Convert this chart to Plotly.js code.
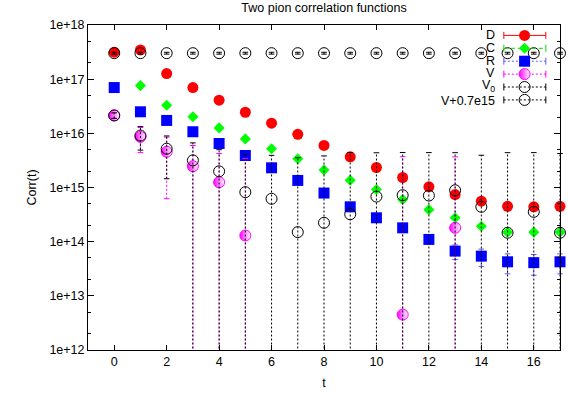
<!DOCTYPE html>
<html><head><meta charset="utf-8">
<script src="https://cdn.plot.ly/plotly-3.0.1.min.js"></script>
<style>html,body{margin:0;padding:0;background:#fff}#chart{width:568px;height:394px}</style>
</head><body><div id="chart"></div>
<script>
// ---- data ----
const t = [0,1,2,3,4,5,6,7,8,9,10,11,12,13,14,15,16,17];
const D = [3.15e17,3.46e17,1.27e17,7.0e16,4.1e16,2.45e16,1.54e16,9.6e15,5.97e15,3.69e15,2.34e15,1.53e15,1.03e15,7.4e14,5.6e14,4.5e14,4.4e14,4.5e14];
const C = [null,7.6e16,3.3e16,2.02e16,1.26e16,7.9e15,5.2e15,3.39e15,2.1e15,1.36e15,9.2e14,6.0e14,3.9e14,2.76e14,1.93e14,1.5e14,1.5e14,1.5e14];
const R = [7.0e16,2.5e16,1.73e16,1.07e16,6.5e15,3.9e15,2.31e15,1.35e15,7.9e14,4.4e14,2.76e14,1.8e14,1.1e14,6.7e13,5.4e13,4.25e13,4.1e13,4.25e13];
const R_err = [1e15,5e14,4e14,3e14,2e14,1.5e14,1e14,7e13,5e13,3e13,2e13,1.5e13,1.0e13,2.0e13,1.9e13,1.7e13,1.7e13,1.7e13];
const V = [2.14e16,8.6e15,4.57e15,2.47e15,1.25e15,1.3e14,null,null,null,null,null,4.5e12,null,1.8e14,null,null,null,null];
const V_err = [2.5e15,4.2e15,3.95e15,3.5e15,3.0e15,3.3e15,null,null,null,null,null,3.7e15,null,3.5e15,null,null,null,null];
const V0 = [3.02e17,3.02e17,3.02e17,3.02e17,3.02e17,3.02e17,3.02e17,3.02e17,3.02e17,3.02e17,3.02e17,3.02e17,3.02e17,3.02e17,3.02e17,3.02e17,3.02e17,3.02e17];
const V0_err = [1.2e16,1.2e16,1.2e16,1.2e16,1.2e16,1.2e16,1.2e16,1.2e16,1.2e16,1.2e16,1.2e16,1.2e16,1.2e16,1.2e16,1.2e16,1.2e16,1.2e16,1.2e16];
const Vp = [2.14e16,9.1e15,5.2e15,3.17e15,1.99e15,8.2e14,6.2e14,1.5e14,2.23e14,3.2e14,6.8e14,7.2e14,7.1e14,8.9e14,4.4e14,1.46e14,3.55e14,1.46e14];
const Vp_err = [2.5e15,4.2e15,3.75e15,3.5e15,3.0e15,3.3e15,3.3e15,3.4e15,3.6e15,4.1e15,3.7e15,3.7e15,3.7e15,3.5e15,3.5e15,4.25e15,4.05e15,4.1e15];
const xTicks = [0,2,4,6,8,10,12,14,16];
const yTickVals = [1e12,1e13,1e14,1e15,1e16,1e17,1e18];
const yTickText = ['1e+12','1e+13','1e+14','1e+15','1e+16','1e+17','1e+18'];
const legendNames = ['D','C','R','V','V<sub>0</sub>','V+0.7e15'];

// ---- styles ----
const FONT = 'Liberation Sans, Arial, Helvetica, sans-serif';
const styles = [
  {name:legendNames[0], y:D,  err:null,   errColor:'#ff0000', dash:'solid',   shift:0, marker:{symbol:'circle', size:11, color:'#ff0000', line:{width:0}}},
  {name:legendNames[1], y:C,  err:null,   errColor:'#00e000', dash:'4px,3px', shift:0, marker:{symbol:'diamond', size:8.5, color:'#00ff00', line:{width:0}}},
  {name:legendNames[2], y:R,  err:R_err,  errColor:'#5a5aff', dash:'2px,2px', shift:0, marker:{symbol:'square', size:11, color:'#0000ff', line:{width:0}}},
  {name:legendNames[3], y:V,  err:V_err,  errColor:'#ff00ff', dash:'2px,2px', shift:1, marker:{symbol:'circle', size:11, color:'#ff00ff', line:{width:1, color:'#ff00ff'}, gradient:{type:'horizontal', color:'#ffffff'}}},
  {name:legendNames[4], y:V0, err:V0_err, errColor:'#000000', dash:'2px,2px', shift:1, marker:{symbol:'circle-open', size:11, color:'#000000', line:{width:1, color:'#000000'}}},
  {name:legendNames[5], y:Vp, err:Vp_err, errColor:'#000000', dash:'2px,2px', shift:-1, marker:{symbol:'circle-open', size:11, color:'#000000', line:{width:1, color:'#000000'}}}
];

// error bars as dotted segments (lower end below the axis when value-error <= 0)
function errTraces(s) {
  const lx=[], ly=[], cx=[], cy=[];
  for (let i=0;i<t.length;i++) {
    const v=s.y[i], e=s.err[i];
    if (v==null || e==null) continue;
    const hi=v+e, lo=v-e;
    lx.push(t[i],t[i],null); ly.push(lo>0?lo:1e9, hi, null);
    cx.push(t[i]); cy.push(hi);
    if (lo>0) { cx.push(t[i]); cy.push(lo); }
  }
  return [
    {x:lx, y:ly, mode:'lines', type:'scatter', showlegend:false, hoverinfo:'skip',
     line:{color:s.errColor, width:1, dash:s.dash}, connectgaps:false},
    {x:cx, y:cy, mode:'markers', type:'scatter', showlegend:false, hoverinfo:'skip', cliponaxis:false,
     marker:{symbol:'line-ew', size:4, color:s.errColor, line:{width:1, color:s.errColor}}}
  ];
}

const traces=[];
styles.forEach(s=>{
  if (s.err) traces.push(...errTraces(s));
  traces.push({x:t, y:s.y, mode:'markers', type:'scatter', name:s.name, showlegend:false, cliponaxis:false, marker:s.marker});
});

// custom gnuplot-style key (text left, sample right) on an overlay axis
const keyTop=0.968, keyStep=0.0397, kx0=0.881, kx1=0.970, kxc=0.925, ktext=0.866;
const annotations=[];
styles.forEach((s,i)=>{
  const yy=keyTop-i*keyStep;
  traces.push({x:[kx0,kx1], y:[yy,yy], xaxis:'x2', yaxis:'y2', mode:'lines', type:'scatter', showlegend:false, hoverinfo:'skip',
    line:{color:s.errColor, width:1, dash:s.dash}});
  traces.push({x:[kx0,kx1], y:[yy,yy], xaxis:'x2', yaxis:'y2', mode:'markers', type:'scatter', showlegend:false, hoverinfo:'skip', cliponaxis:false,
    marker:{symbol:'line-ns', size:5, color:s.errColor, line:{width:1, color:s.errColor}}});
  traces.push({x:[kxc], y:[yy], xaxis:'x2', yaxis:'y2', mode:'markers', type:'scatter', showlegend:false, hoverinfo:'skip', cliponaxis:false,
    marker:s.marker});
  annotations.push({xref:'paper', yref:'paper', x:ktext, y:yy, yshift:s.shift, xanchor:'right', yanchor:'middle', text:s.name, showarrow:false,
    font:{family:FONT, size:12.5, color:'#000'}});
});

// minor ticks at 2 and 5 of every decade
const minorVals=[];
for (let p=12;p<18;p++){ minorVals.push(2*Math.pow(10,p), 5*Math.pow(10,p)); }

const layout = {
  width:568, height:394,
  margin:{l:88, r:8, t:25, b:43.5, pad:0},
  paper_bgcolor:'#ffffff', plot_bgcolor:'#ffffff',
  font:{family:FONT, size:12.5, color:'#000'},
  showlegend:false,
  title:{text:'Two pion correlation functions', font:{family:FONT, size:12.5, color:'#000'},
         x:0.5, xref:'paper', xanchor:'center', y:1-7.5/394, yref:'container', yanchor:'middle'},
  xaxis:{range:[-1,17], tickmode:'array', tickvals:xTicks, ticks:'inside', ticklen:5, tickwidth:1, tickcolor:'#000',
         showline:true, linecolor:'#000', linewidth:1, mirror:'ticks', showgrid:false, zeroline:false,
         title:{text:'t', standoff:10, font:{family:FONT, size:12.5}}, tickfont:{family:FONT, size:12.5}},
  yaxis:{type:'log', range:[12,18], tickmode:'array', tickvals:yTickVals, ticktext:yTickText,
         ticks:'inside', ticklen:6, tickwidth:1, tickcolor:'#000',
         minor:{tickmode:'array', tickvals:minorVals, ticks:'inside', ticklen:3, tickwidth:1, tickcolor:'#000', showgrid:false},
         showline:true, linecolor:'#000', linewidth:1, mirror:'ticks', showgrid:false, zeroline:false,
         title:{text:'Corr(t)', standoff:10, font:{family:FONT, size:12.5}}, tickfont:{family:FONT, size:12.5}},
  xaxis2:{overlaying:'x', range:[0,1], visible:false, fixedrange:true},
  yaxis2:{overlaying:'y', range:[0,1], visible:false, fixedrange:true},
  annotations:annotations
};

Plotly.newPlot('chart', traces, layout, {displayModeBar:false, staticPlot:true});
</script>
</body></html>
